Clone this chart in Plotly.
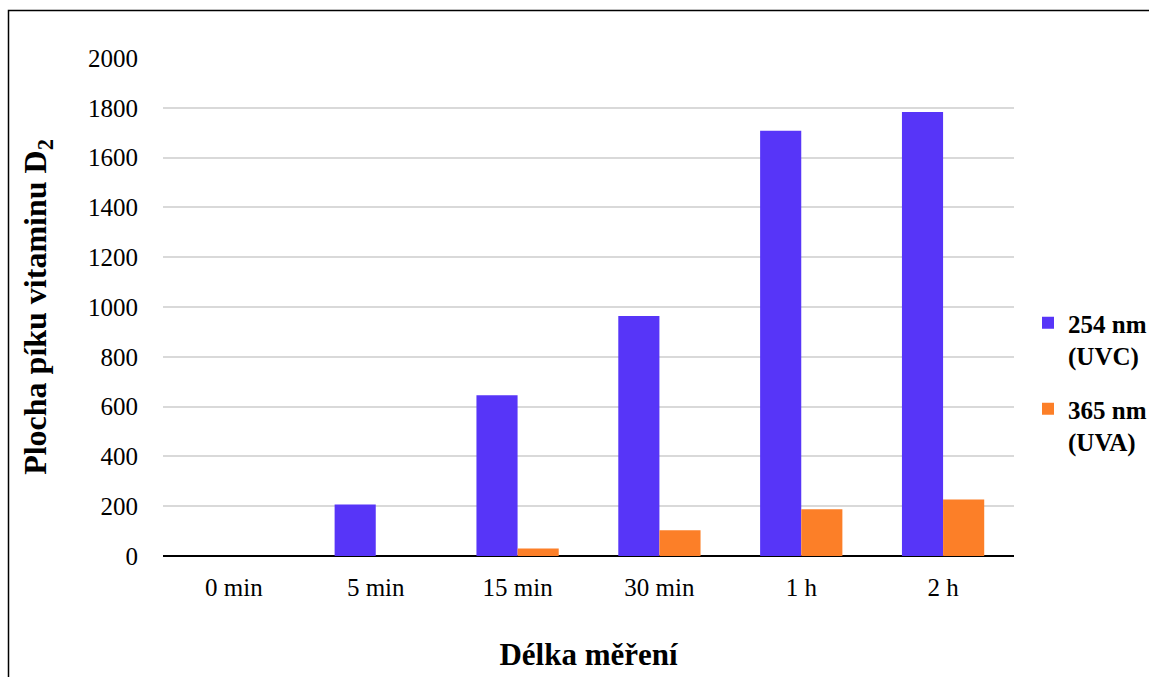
import plotly.graph_objects as go

# Sample exposure times
categories = ["0 min", "5 min", "15 min", "30 min", "1 h", "2 h"]

# Peak area of vitamin D2 for each irradiation wavelength
uvc_254 = [0, 207, 646, 964, 1708, 1783]
uva_365 = [0, 0, 30, 103, 188, 227]

series_names = ["<b>254 nm<br>(UVC)</b>", "<b>365 nm<br>(UVA)</b>"]
y_ticks = [0, 200, 400, 600, 800, 1000, 1200, 1400, 1600, 1800, 2000]

SERIF = "Times New Roman, Liberation Serif, serif"

fig = go.Figure()
fig.add_trace(go.Bar(
    x=categories, y=uvc_254, name=series_names[0], legendgroup="uvc",
    marker=dict(color="#5735F8", line=dict(width=0)),
))
fig.add_trace(go.Bar(
    x=categories, y=uva_365, name=series_names[1], legendgroup="uva",
    marker=dict(color="#FC7F28", line=dict(width=0)),
))

L, R, T, B = 163, 135, 58, 121
W, H = 1149, 677
pw, ph = W - L - R, H - T - B

fig.update_layout(
    width=W, height=H,
    margin=dict(l=L, r=R, t=T, b=B, autoexpand=False),
    paper_bgcolor="white", plot_bgcolor="white",
    barmode="group", bargap=0.42, bargroupgap=0,
    font=dict(family=SERIF, color="black", size=25),
    showlegend=True,
    legend=dict(
        x=(1028 - L) / pw, y=1 - (300 - T) / ph,
        xanchor="left", yanchor="top", valign="top",
        traceorder="grouped", tracegroupgap=18,
        font=dict(family=SERIF, size=25, color="black"),
        itemwidth=30, bgcolor="rgba(0,0,0,0)",
    ),
    xaxis=dict(
        showgrid=False, showline=False, zeroline=False,
        tickfont=dict(family=SERIF, size=25),
        ticks="", ticklabelstandoff=14,
        title=dict(text="<b>Délka měření</b>",
                   font=dict(family=SERIF, size=31), standoff=43),
    ),
    yaxis=dict(
        range=[0, 2000], tickvals=y_ticks,
        showgrid=True, gridcolor="#D9D9D9", gridwidth=1.5,
        zeroline=True, zerolinecolor="black", zerolinewidth=2,
        showline=False, ticks="", ticklabelstandoff=24,
        tickfont=dict(family=SERIF, size=25),
        title=dict(text="<b>Plocha píku vitaminu D<sub>2</sub></b>",
                   font=dict(family=SERIF, size=32), standoff=31),
    ),
    shapes=[dict(
        type="rect", xref="paper", yref="paper",
        x0=(8.5 - L) / pw, x1=(W + 20 - L) / pw,
        y0=-(H + 20 - T - ph) / ph, y1=1 + (T - 10.5) / ph,
        line=dict(color="black", width=1.5), fillcolor="rgba(0,0,0,0)",
        layer="below",
    )],
)

fig.write_html("out.html")
